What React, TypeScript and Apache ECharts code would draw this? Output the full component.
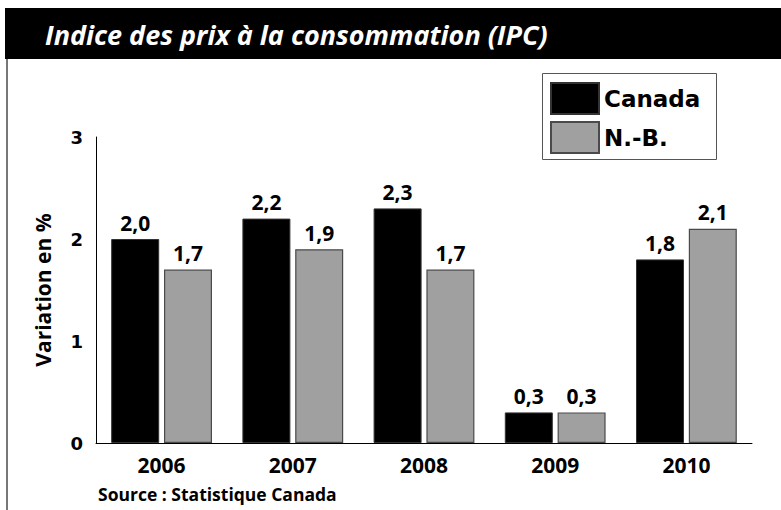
import React, { useEffect, useRef } from "react";
import * as echarts from "echarts";

const years = ["2006", "2007", "2008", "2009", "2010"];
const canada = [2.0, 2.2, 2.3, 0.3, 1.8];
const nb = [1.7, 1.9, 1.7, 0.3, 2.1];
const yTicks = [0, 1, 2, 3];
const titleText = "Indice des prix à la consommation (IPC)";
const sourceText = "Source : Statistique Canada";
const yName = "Variation en %";

const FONT = "'Open Sans', sans-serif";

export default function App() {
  const ref = useRef<HTMLDivElement>(null);
  useEffect(() => {
    if (!ref.current) return;
    const chart = echarts.init(ref.current, null, { renderer: "svg" });
    const fmt = (p: any) => Number(p.value).toFixed(1).replace(".", ",");
    const labelStyle = {
      show: true,
      position: "top" as const,
      distance: 6,
      formatter: fmt,
      color: "#000",
      fontFamily: FONT,
      fontWeight: "bold" as const,
      fontSize: 21,
    };
    chart.setOption({
      animation: false,
      backgroundColor: "#fff",
      grid: { left: 96, right: 29, top: 137, bottom: 67, containLabel: false },
      legend: {
        orient: "vertical",
        left: 543,
        top: 75,
        padding: [7, 8, 7, 7],
        itemWidth: 48,
        itemHeight: 31,
        itemGap: 6,
        icon: "rect",
        textStyle: {
          fontFamily: "'DejaVu Sans', sans-serif",
          fontWeight: "bold",
          fontSize: 23,
          color: "#000",
          padding: [0, 0, 0, 0],
        },
        data: ["Canada", "N.-B."],
      },
      xAxis: {
        type: "category",
        data: years,
        axisLine: { show: true, lineStyle: { color: "#000", width: 1 } },
        axisTick: { show: false },
        axisLabel: {
          margin: 11,
          color: "#000",
          fontFamily: FONT,
          fontWeight: "bold",
          fontSize: 21,
        },
      },
      yAxis: {
        type: "value",
        min: 0,
        max: 3,
        interval: 1,
        name: yName,
        nameLocation: "middle",
        nameGap: 43,
        nameTextStyle: {
          color: "#000",
          fontFamily: FONT,
          fontWeight: "bold",
          fontSize: 21,
        },
        axisLine: { show: true, lineStyle: { color: "#000", width: 1 } },
        axisTick: { show: false },
        splitLine: { show: false },
        axisLabel: {
          margin: 13,
          color: "#000",
          fontFamily: "'DejaVu Sans', sans-serif",
          fontWeight: "bold",
          fontSize: 18,
          formatter: (v: number) => (yTicks.includes(v) ? String(v) : ""),
        },
      },
      series: [
        {
          name: "Canada",
          type: "bar",
          data: canada,
          barWidth: 48,
          barGap: "10%",
          itemStyle: { color: "#000", borderColor: "#333", borderWidth: 1 },
          label: labelStyle,
        },
        {
          name: "N.-B.",
          type: "bar",
          data: nb,
          barWidth: 48,
          itemStyle: { color: "#a0a0a0", borderColor: "#4a4a4a", borderWidth: 1.2 },
          label: labelStyle,
        },
      ],
      graphic: [
        {
          type: "rect",
          shape: { x: 5, y: 8, width: 776, height: 51 },
          style: { fill: "#000" },
          z: 10,
        },
        {
          type: "text",
          x: 45,
          y: 34,
          style: {
            text: titleText,
            fill: "#fff",
            font: `italic bold 27px ${FONT}`,
            textVerticalAlign: "middle",
          },
          z: 11,
        },
        {
          type: "line",
          shape: { x1: 7, y1: 59, x2: 7, y2: 510 },
          style: { stroke: "#777", lineWidth: 2 },
        },
        {
          type: "rect",
          shape: { x: 542.5, y: 73.5, width: 174, height: 86 },
          style: { fill: "none", stroke: "#555", lineWidth: 1 },
        },
        {
          type: "text",
          x: 98,
          y: 494,
          style: {
            text: sourceText,
            fill: "#000",
            font: `bold 17.5px ${FONT}`,
            textVerticalAlign: "middle",
          },
        },
      ],
    });
    return () => chart.dispose();
  }, []);
  return (
    <div
      ref={ref}
      style={{ position: "fixed", left: 0, top: 0, width: 781, height: 510 }}
    />
  );
}
